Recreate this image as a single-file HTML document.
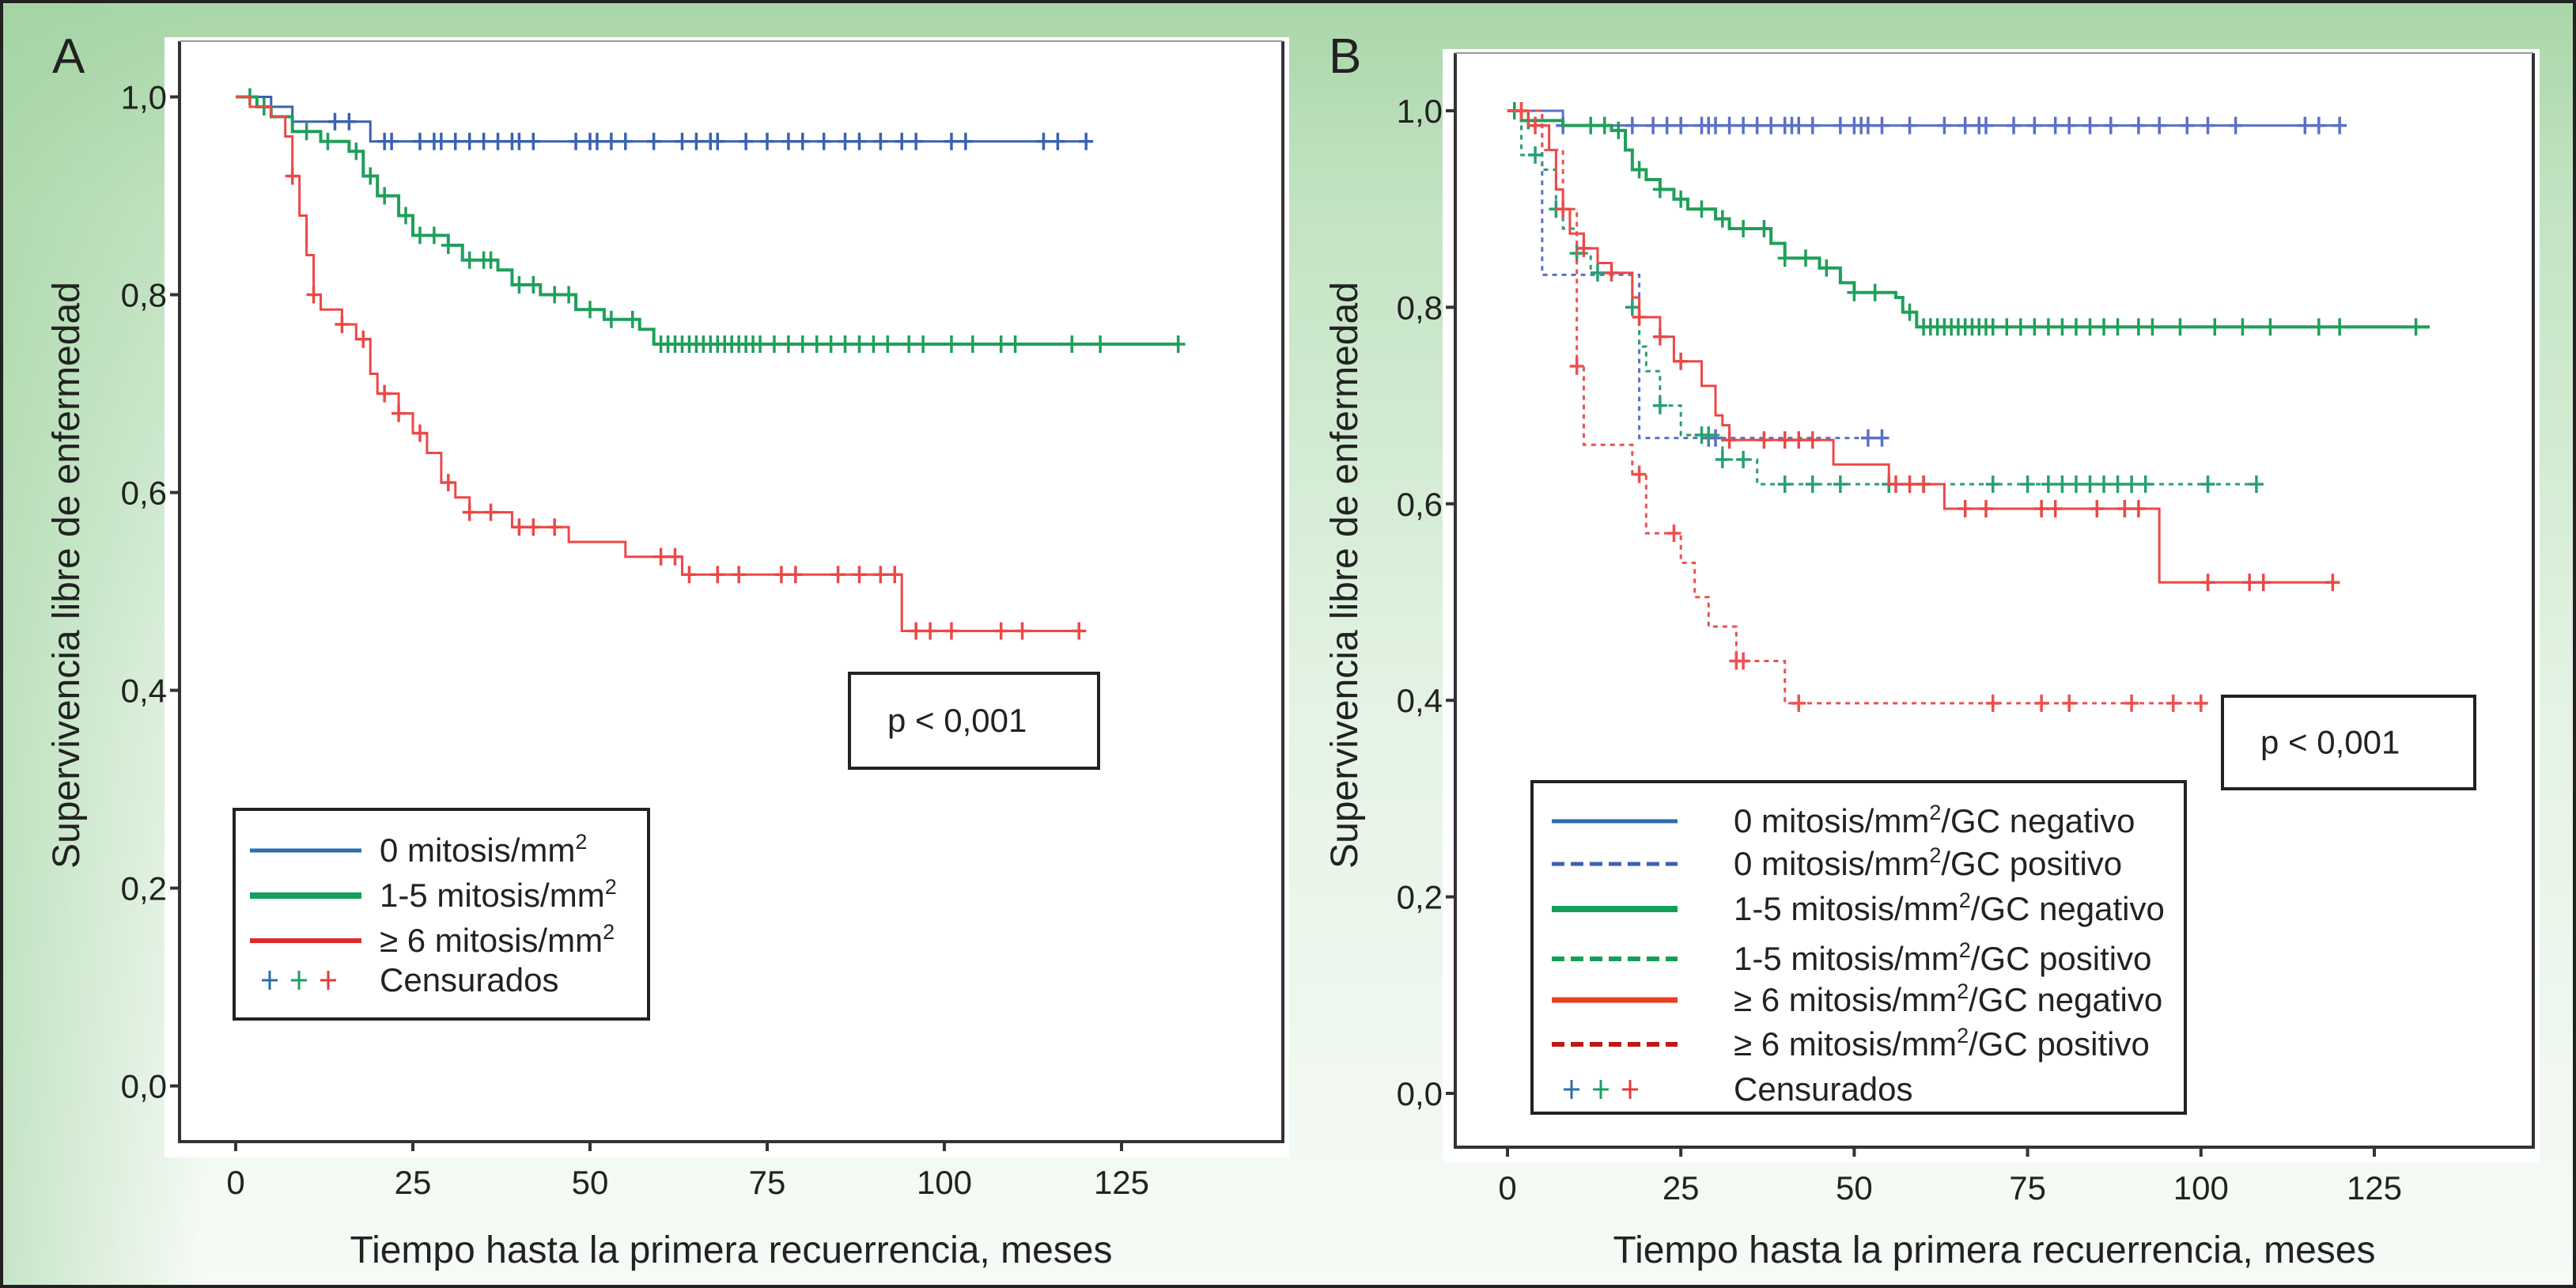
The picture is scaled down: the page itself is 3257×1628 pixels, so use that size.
<!DOCTYPE html>
<html><head><meta charset="utf-8"><style>
html,body{margin:0;padding:0}
body{width:3257px;height:1628px;overflow:hidden;background:linear-gradient(to right,rgba(160,210,160,0.55) 0px,rgba(160,210,160,0) 260px),linear-gradient(to bottom,#a9d6a9 0px,#c2e3c2 250px,#e4f3e4 900px,#f7fbf7 1628px);font-family:"Liberation Sans",sans-serif}
#wrap{position:absolute;left:0;top:0;width:3249px;height:1620px;border:4px solid #222}
</style></head><body>
<div id="wrap"></div>
<svg id="svg" width="3257" height="1628" style="position:absolute;left:0;top:0"></svg>
<script>
// Panel A data
const aBlue=[[0,1],[5,0.99],[8,0.975],[19,0.955],[120,0.955]];
const aGreen=[[0,1],[3,0.99],[5,0.98],[8,0.965],[12,0.955],[16,0.945],[18,0.92],[20,0.9],[23,0.88],[25,0.86],[30,0.85],[32,0.835],[37,0.825],[39,0.81],[43,0.8],[48,0.785],[52,0.775],[57,0.765],[59,0.75],[133,0.75]];
const aRed=[[0,1],[2,0.99],[5,0.98],[7,0.96],[8,0.92],[9,0.88],[10,0.84],[11,0.8],[12,0.785],[15,0.77],[17,0.755],[19,0.72],[20,0.7],[23,0.68],[25,0.66],[27,0.64],[29,0.61],[31,0.595],[33,0.58],[39,0.565],[47,0.55],[55,0.535],[63,0.517],[94,0.46],[120,0.46]];
const aBlueC=[14,16,21,22,26,28,29,31,33,35,37,39,40,42,48,50,51,53,55,59,63,65,67,68,72,75,78,80,83,86,88,91,94,96,101,103,114,116,120];
const aGreenC=[2,4,10,13,17,19,21,24,26,28,30,33,35,36,40,42,45,47,50,53,56,60,61,62,63,64,65,66,67,68,69,70,71,72,73,74,76,78,80,82,84,86,88,90,92,95,97,101,104,108,110,118,122,133];
const aRedC=[8,11,15,18,21,23,26,30,33,36,40,42,45,60,62,64,68,71,77,79,85,88,91,93,96,98,101,108,111,119];
// Panel B data
const bBlueNeg=[[0,1],[8,0.985],[120,0.985]];
const bBluePos=[[0,1],[5,0.833],[19,0.667],[55,0.667]];
const bGreenNeg=[[0,1],[2,0.99],[8,0.985],[15,0.98],[17,0.96],[18,0.94],[20,0.93],[22,0.92],[24,0.91],[26,0.9],[30,0.89],[32,0.88],[38,0.865],[40,0.85],[45,0.84],[48,0.825],[50,0.815],[56,0.81],[57,0.795],[59,0.78],[133,0.78]];
const bGreenPos=[[0,1],[2,0.955],[5,0.94],[7,0.9],[8,0.88],[10,0.855],[12,0.835],[18,0.8],[19,0.76],[20,0.735],[22,0.7],[25,0.67],[31,0.645],[36,0.62],[108,0.62]];
const bRedNeg=[[0,1],[3,0.985],[6,0.96],[7,0.92],[8,0.9],[9,0.875],[11,0.86],[13,0.845],[15,0.835],[18,0.81],[19,0.79],[22,0.77],[24,0.745],[28,0.72],[30,0.69],[31,0.68],[32,0.665],[47,0.64],[55,0.62],[63,0.595],[94,0.52],[120,0.52]];
const bRedPos=[[0,1],[5,0.96],[8,0.9],[10,0.74],[11,0.66],[18,0.63],[20,0.57],[25,0.54],[27,0.505],[29,0.475],[33,0.44],[40,0.397],[100,0.397]];
const bBlueNegC=[1,8,18,21,23,25,28,29,30,32,34,36,38,40,41,42,44,48,50,51,52,54,58,63,66,68,69,73,76,79,81,84,87,91,94,98,101,105,115,117,120];
const bBluePosC=[29,30,52,54];
const bGreenNegC=[1,3,12,14,16,19,22,25,28,31,34,37,40,43,46,50,53,58,60,61,62,63,64,65,66,67,68,69,70,72,74,76,78,80,82,84,86,88,91,93,97,102,106,110,117,120,131];
const bGreenPosC=[4,7,10,13,18,22,28,29,31,34,40,44,48,55,60,70,75,78,80,82,84,86,88,90,92,101,108];
const bRedNegC=[2,4,8,11,15,19,22,25,32,37,40,42,44,56,58,60,66,69,77,79,85,89,91,101,107,109,119];
const bRedPosC=[2,10,19,24,33,34,42,70,77,81,90,96,100];
const xTicks=[0,25,50,75,100,125];
const yTicks=[0,0.2,0.4,0.6,0.8,1.0];
const yLabels=["0,0","0,2","0,4","0,6","0,8","1,0"];

const NS="http://www.w3.org/2000/svg";
const svg=document.getElementById('svg');
function mk(tag,attrs,parent){const e=document.createElementNS(NS,tag);for(const k in attrs)e.setAttribute(k,attrs[k]);(parent||svg).appendChild(e);return e;}
function txt(s,attrs,parent){const e=mk('text',attrs,parent);e.textContent=s;return e;}

function panel(P){
  const g=mk('g',{});
  
  
  const X=v=>P.x0+(P.x125-P.x0)*v/125, Y=v=>P.y0+(P.y1-P.y0)*v;
  const bg=mk('rect',{x:P.bgx,y:P.bgy,width:P.right-P.bgx+8,height:P.bottom-P.bgy+20,fill:'#fff'},g);
  
  
  const fr=mk('path',{d:`M${P.left},${P.top} V${P.bottom} H${P.right} V${P.top}`,fill:'none',stroke:'#333','stroke-width':4},g);
  
  
  mk('line',{x1:P.left,y1:P.top,x2:P.right,y2:P.top,stroke:'#999','stroke-width':2},g);
  xTicks.forEach(t=>{
    mk('line',{x1:X(t),y1:P.bottom,x2:X(t),y2:P.bottom+12,stroke:'#333','stroke-width':4},g);
    const e=txt(String(t),{x:X(t),y:P.bottom+66,'font-size':42,'text-anchor':'middle',fill:'#222'},g);
    
    
  });
  yTicks.forEach((t,i)=>{
    mk('line',{x1:P.left-12,y1:Y(t),x2:P.left,y2:Y(t),stroke:'#333','stroke-width':4},g);
    const e=txt(yLabels[i],{x:P.left-16,y:Y(t)+15,'font-size':42,'text-anchor':'end',fill:'#222'},g);
    
    
  });
  const yt=txt('Supervivencia libre de enfermedad',{x:0,y:0,'font-size':48,'text-anchor':'middle',fill:'#222',transform:`translate(${P.ytx},727) rotate(-90)`},g);
  
  
  const xt=txt('Tiempo hasta la primera recuerrencia, meses',{x:(P.left+P.right)/2,y:1596,'font-size':48,'text-anchor':'middle',fill:'#222'},g);
  
  
  const pl=txt(P.letter,{x:P.letterX,y:92,'font-size':62,fill:'#222'},g);
  
  
  P.series.forEach(s=>{
    let d=`M${X(s.d[0][0])},${Y(s.d[0][1])}`;
    for(let i=1;i<s.d.length;i++){d+=` H${X(s.d[i][0])} V${Y(s.d[i][1])}`;}
    const p=mk('path',{d,fill:'none',stroke:s.c,'stroke-width':s.w||3,'stroke-dasharray':s.dash||'none'},g);
    
    
    const val=t=>{let v=s.d[0][1];for(const q of s.d){if(q[0]<=t)v=q[1];}return v;};
    s.cens.forEach(t=>{
      const cx=X(t),cy=Y(val(t));
      const m=mk('path',{d:`M${cx-9},${cy} H${cx+9} M${cx},${cy-11} V${cy+11}`,stroke:s.c,'stroke-width':3.5},g);
      
      
    });
  });
  const pb=mk('rect',{x:P.pbox[0],y:P.pbox[1],width:P.pbox[2],height:P.pbox[3],fill:'#fff',stroke:'#222','stroke-width':4},g);
  
  
  const pt=txt('p < 0,001',{x:P.pbox[0]+48,y:P.pbox[1]+P.pbox[3]/2+14,'font-size':42,fill:'#222'},g);
  
  
  const L=P.legend;
  const lg=mk('g',{},g);
  
  
  mk('rect',{x:L.box[0],y:L.box[1],width:L.box[2],height:L.box[3],fill:'#fff',stroke:'#222','stroke-width':4},lg);
  L.items.forEach((it,i)=>{
    const y=L.rows[i];
    const e=mk('g',{},lg);
    
    
    if(it.c){mk('line',{x1:L.sx[0],y1:y,x2:L.sx[1],y2:y,stroke:it.c,'stroke-width':it.w,'stroke-dasharray':it.dash||'none'},e);}
    else{[0,1,2].forEach(k=>{const cx=L.sx[0]+25+k*37;const col=['#2b6fa8','#1fa060','#e23a3a'][k];mk('path',{d:`M${cx-10},${y} H${cx+10} M${cx},${y-12} V${y+12}`,stroke:col,'stroke-width':3},e);});}
    const t=mk('text',{x:L.tx,y:y+14,'font-size':42,fill:'#222'},e);
    t.innerHTML=it.t;
  });
}
function sup(a,b){return a+'<tspan dy="-16" font-size="27">2</tspan><tspan dy="16">'+(b||'')+'</tspan>';}
panel({name:'panel-a',letter:'A',letterX:66,bgx:208,bgy:47,left:227,top:52,right:1622,bottom:1443,x0:298,x125:1418,y0:1372.6,y1:122.5,ytx:100,
  series:[{n:'zero-mitosis',c:'#3a62b0',d:aBlue,cens:aBlueC},{n:'one-five-mitosis',c:'#1ea05a',d:aGreen,cens:aGreenC,w:4},{n:'six-plus-mitosis',c:'#ec4848',d:aRed,cens:aRedC}],
  pbox:[1074,851,315,120],
  legend:{box:[296,1023,524,265],sx:[316,457],tx:480,rows:[1075,1132,1189,1239],items:[
    {c:'#2d6ea8',w:5,t:sup('0 mitosis/mm')},{c:'#14a05a',w:8,t:sup('1-5 mitosis/mm')},{c:'#e02a2a',w:6,t:sup('≥ 6 mitosis/mm')},{t:'Censurados'}]}
});
panel({name:'panel-b',letter:'B',letterX:1680,bgx:1824,bgy:62,left:1840,top:67,right:3203,bottom:1450,x0:1906,x125:3002,y0:1382,y1:140,ytx:1716,
  series:[{n:'zero-gc-neg',c:'#5a70c8',d:bBlueNeg,cens:bBlueNegC},{n:'zero-gc-pos',c:'#5a70c8',d:bBluePos,cens:bBluePosC,dash:'6 6'},
    {n:'one-five-gc-neg',c:'#1ea05a',d:bGreenNeg,cens:bGreenNegC,w:4},{n:'one-five-gc-pos',c:'#28a070',d:bGreenPos,cens:bGreenPosC,dash:'6 6'},
    {n:'six-plus-gc-neg',c:'#ec4848',d:bRedNeg,cens:bRedNegC},{n:'six-plus-gc-pos',c:'#ee5050',d:bRedPos,cens:bRedPosC,dash:'6 6'}],
  pbox:[2810,880,319,117],
  legend:{box:[1937,988,826,419],sx:[1962,2121],tx:2192,rows:[1038,1092,1149,1212,1264,1320,1377],items:[
    {c:'#2d6ea8',w:5,t:sup('0 mitosis/mm','/GC negativo')},{c:'#3a62b0',w:5,dash:'16 8',t:sup('0 mitosis/mm','/GC positivo')},
    {c:'#14a05a',w:8,t:sup('1-5 mitosis/mm','/GC negativo')},{c:'#14a05a',w:6,dash:'16 8',t:sup('1-5 mitosis/mm','/GC positivo')},
    {c:'#e84020',w:7,t:sup('≥ 6 mitosis/mm','/GC negativo')},{c:'#c01818',w:6,dash:'16 8',t:sup('≥ 6 mitosis/mm','/GC positivo')},{t:'Censurados'}]}
});
</script>
</body></html>
